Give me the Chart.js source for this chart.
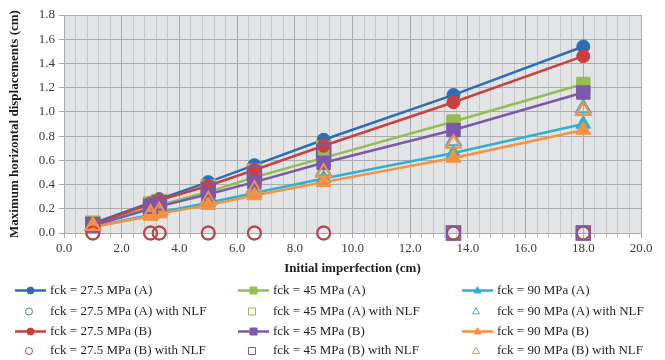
<!DOCTYPE html>
<html>
<head>
<meta charset="utf-8">
<script src="https://cdn.jsdelivr.net/npm/chart.js@4.4.1/dist/chart.umd.min.js"></script>
<style>
  html, body { margin: 0; background: #fff; }
</style>
</head>
<body>
<canvas id="chart" width="665" height="360"></canvas>
<script>
// initial imperfection (cm)
const imperfections = [1, 3, 3.3, 5, 6.6, 9, 13.5, 18];

// maximum horizontal displacements (cm)
const fck27A = [0.08, 0.25, 0.28, 0.42, 0.56, 0.77, 1.14, 1.54];
const fck45A = [0.07, 0.21, 0.23, 0.34, 0.46, 0.62, 0.92, 1.23];
const fck90A = [0.05, 0.15, 0.17, 0.25, 0.33, 0.45, 0.66, 0.90];
const fck27A_NLF = [0, 0, 0, 0, 0, 0, 0, 0];
const fck45A_NLF = [0.08, 0.24, 0.26, 0.38, 0.51, 0.70, 0, 0];
const fck90A_NLF = [0.06, 0.17, 0.19, 0.28, 0.37, 0.51, 0.76, 1.03];
const fck27B = [0.07, 0.24, 0.27, 0.39, 0.52, 0.72, 1.08, 1.46];
const fck45B = [0.06, 0.20, 0.22, 0.32, 0.42, 0.58, 0.85, 1.16];
const fck90B = [0.05, 0.14, 0.16, 0.23, 0.31, 0.42, 0.62, 0.85];
const fck27B_NLF = [0, 0, 0, 0, 0, 0, 0, 0];
const fck45B_NLF = [0.07, 0.22, 0.25, 0.36, 0.49, 0.67, 0, 0];
const fck90B_NLF = [0.06, 0.16, 0.18, 0.27, 0.36, 0.50, 0.74, 1.01];

const seriesNames = [
  "fck = 27.5 MPa (A)", "fck = 45 MPa (A)", "fck = 90 MPa (A)",
  "fck = 27.5 MPa (A) with NLF", "fck = 45 MPa (A) with NLF", "fck = 90 MPa (A) with NLF",
  "fck = 27.5 MPa (B)", "fck = 45 MPa (B)", "fck = 90 MPa (B)",
  "fck = 27.5 MPa (B) with NLF", "fck = 45 MPa (B) with NLF", "fck = 90 MPa (B) with NLF"
];
const seriesValues = [
  fck27A, fck45A, fck90A, fck27A_NLF, fck45A_NLF, fck90A_NLF,
  fck27B, fck45B, fck90B, fck27B_NLF, fck45B_NLF, fck90B_NLF
];

const yTicks = [0, 0.2, 0.4, 0.6, 0.8, 1.0, 1.2, 1.4, 1.6, 1.8];

const colors = [
  "#2d6db5", "#94bd52", "#2fb0cf", "#4f81bd", "#94bd52", "#4bacc6",
  "#c9403f", "#7b58ab", "#f7913f", "#c9403f", "#7b58ab", "#f7913f"
];
const shapes = ["circle", "rect", "triangle"];
const radii = { circle: 6.5, rect: 9.5, triangle: 8.5 };
const FONT = "'Liberation Serif', 'DejaVu Serif', serif";

const datasets = seriesValues.map((vals, i) => {
  const shape = shapes[i % 3];
  const hollow = seriesNames[i].includes("NLF");
  return {
    label: seriesNames[i],
    data: vals.map((v, k) => ({ x: imperfections[k], y: v })),
    showLine: !hollow,
    borderColor: colors[i],
    backgroundColor: hollow ? "rgba(0,0,0,0)" : colors[i],
    borderWidth: 2.5,
    pointStyle: shape,
    pointRadius: radii[shape],
    pointBorderWidth: hollow ? 2 : 1,
    pointHoverRadius: radii[shape],
    clip: false,
    order: 12 - i
  };
});

function marker(ctx, shape, x, y, r, color, hollow) {
  ctx.save();
  ctx.beginPath();
  if (shape === "circle") {
    ctx.arc(x, y, r, 0, Math.PI * 2);
  } else if (shape === "rect") {
    ctx.rect(x - r, y - r, r * 2, r * 2);
  } else {
    ctx.moveTo(x, y - r * 1.1);
    ctx.lineTo(x + r, y + r * 0.7);
    ctx.lineTo(x - r, y + r * 0.7);
    ctx.closePath();
  }
  ctx.strokeStyle = color;
  ctx.lineWidth = 1;
  if (hollow) {
    ctx.stroke();
  } else {
    ctx.fillStyle = color;
    ctx.fill();
    ctx.stroke();
  }
  ctx.restore();
}

const plotBackground = {
  id: "plotBackground",
  beforeDraw(chart) {
    const { ctx, chartArea: a } = chart;
    ctx.save();
    ctx.fillStyle = "#e3e4e6";
    ctx.fillRect(a.left, a.top, a.right - a.left, a.bottom - a.top);
    ctx.restore();
  }
};

const bottomLegend = {
  id: "bottomLegend",
  afterDraw(chart) {
    const ctx = chart.ctx;
    const colX = [15, 238, 462];
    const rowY = [290.5, 311.5, 331.5, 351];
    ctx.save();
    ctx.font = "13px " + FONT;
    ctx.textBaseline = "middle";
    ctx.fillStyle = "#1e1e1e";
    chart.data.datasets.forEach((ds, i) => {
      const x = colX[i % 3];
      const y = rowY[Math.floor(i / 3)];
      const hollow = !ds.showLine;
      if (!hollow) {
        ctx.strokeStyle = ds.borderColor;
        ctx.lineWidth = 2.5;
        ctx.beginPath();
        ctx.moveTo(x, y);
        ctx.lineTo(x + 31, y);
        ctx.stroke();
        marker(ctx, ds.pointStyle, x + 15.5, y, 3.5, ds.borderColor, false);
      } else {
        marker(ctx, ds.pointStyle, x + 14, y, 3.5, ds.borderColor, true);
      }
      ctx.fillStyle = "#1e1e1e";
      ctx.fillText(ds.label, x + 35, y);
    });
    ctx.restore();
  }
};

new Chart(document.getElementById("chart"), {
  type: "scatter",
  data: { datasets },
  options: {
    responsive: false,
    animation: false,
    events: [],
    layout: { padding: { left: 0, right: 24, top: 15, bottom: 84 } },
    plugins: { legend: { display: false }, tooltip: { enabled: false } },
    scales: {
      x: {
        type: "linear",
        min: 0,
        max: 20,
        afterFit: s => { s.height = 43; },
        afterBuildTicks: s => {
          s.ticks = [];
          for (let k = 0; k <= 50; k++) s.ticks.push({ value: k * 0.4 });
        },
        ticks: {
          autoSkip: false,
          maxRotation: 0,
          padding: 3,
          color: "#3a3a3a",
          font: { family: FONT, size: 13 },
          callback: v => (Math.abs(v / 2 - Math.round(v / 2)) < 1e-6 ? v.toFixed(1) : "")
        },
        grid: {
          color: c => (c.tick && Math.abs(c.tick.value / 2 - Math.round(c.tick.value / 2)) < 1e-6 ? "#a9abae" : "#c6c8cb"),
          tickLength: 5,
          lineWidth: 1
        },
        border: { color: "#a9abae" },
        title: {
          display: true,
          text: "Initial imperfection (cm)",
          color: "#1e1e1e",
          font: { family: FONT, size: 13, weight: "bold" },
          padding: { top: 0, bottom: 0 }
        }
      },
      y: {
        min: 0,
        max: 1.8,
        afterFit: s => { s.width = 64; },
        afterBuildTicks: s => { s.ticks = yTicks.map(v => ({ value: v })); },
        ticks: {
          padding: 4,
          color: "#3a3a3a",
          font: { family: FONT, size: 13 },
          callback: v => v.toFixed(1)
        },
        grid: { color: "#a9abae", tickLength: 5, lineWidth: 1 },
        border: { color: "#a9abae" },
        title: {
          display: true,
          text: "Maximum horizontal displacements (cm)",
          color: "#1e1e1e",
          font: { family: FONT, size: 13, weight: "bold" },
          padding: { top: 7, bottom: 0 }
        }
      }
    }
  },
  plugins: [plotBackground, bottomLegend]
});
</script>
</body>
</html>
